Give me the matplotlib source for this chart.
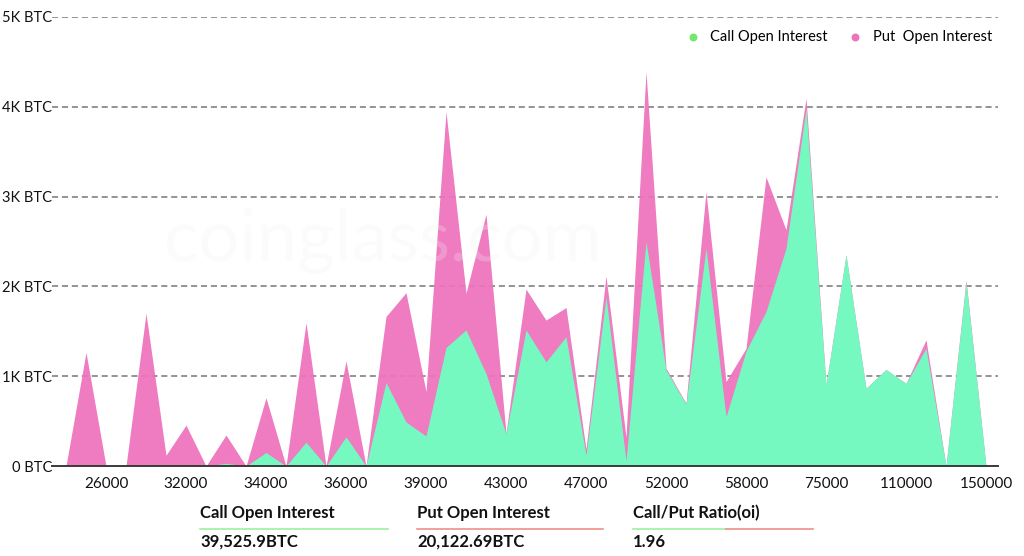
import matplotlib.pyplot as plt
import numpy as np

# strike prices (category axis), only every 4th one is labelled
strikes = [20000, 25000, 26000, 27000, 28000, 29000, 32000, 32500, 33000, 33500,
           34000, 34500, 35000, 35500, 36000, 36500, 37000, 38000, 39000, 40000,
           41000, 42000, 43000, 44000, 45000, 46000, 47000, 48000, 49000, 50000,
           52000, 54000, 55000, 56000, 58000, 60000, 65000, 70000, 75000, 80000,
           90000, 100000, 110000, 120000, 130000, 140000, 150000]

# open interest per strike, in BTC
call_oi = [0, 0, 0, 0, 15, 0, 0, 0, 30, 0,
           150, 0, 265, 0, 325, 0, 930, 490, 335, 1320,
           1515, 1030, 360, 1515, 1160, 1440, 120, 1885, 60, 2500,
           1070, 690, 2425, 550, 1280, 1720, 2425, 3980, 900, 2350,
           865, 1075, 920, 1310, 0, 2050, 0]
put_oi = [0, 1265, 0, 0, 1685, 120, 455, 0, 315, 0,
          610, 0, 1330, 0, 845, 0, 735, 1440, 495, 2625,
          410, 1775, 5, 455, 465, 325, 65, 230, 260, 1890,
          20, 10, 630, 390, 30, 1500, 205, 115, 0, 0,
          0, 0, 0, 95, 0, 20, 0]

total_call = "39,525.9BTC"
total_put = "20,122.69BTC"
ratio = "1.96"

plt.rcParams['font.family'] = ['Lato', 'DejaVu Sans']

green = '#76f9c0'
pink = '#ee73bd'

fig = plt.figure(figsize=(10.24, 5.56), dpi=100)
ax = fig.add_axes([52 / 1024, 90 / 556, 946 / 1024, 449 / 556])

x = np.arange(len(strikes))
call = np.array(call_oi)
put_top = call + np.array(put_oi)

# put is stacked on top of call
ax.fill_between(x, 0, put_top, color=pink, alpha=0.94, linewidth=0, zorder=2)
ax.fill_between(x, 0, call, color=green, linewidth=0, zorder=3)

ax.set_xlim(-0.7, 46.6)
ax.set_ylim(0, 5000)

yticks = [0, 1000, 2000, 3000, 4000, 5000]
ax.set_yticks(yticks)
ax.set_yticklabels(['0 BTC', '1K BTC', '2K BTC', '3K BTC', '4K BTC', '5K BTC'])
for yv in yticks[1:]:
    ax.axhline(yv, color='#777777', linestyle=(0, (4, 2.5)), linewidth=1.1, zorder=1)

ax.set_xticks(x[2::4])
ax.set_xticklabels([str(s) for s in strikes[2::4]])
ax.tick_params(axis='x', length=0, labelsize=11, colors='#111111', pad=8)
ax.tick_params(axis='y', length=0, labelsize=10.5, colors='#111111', pad=0)

for side in ['top', 'right', 'left']:
    ax.spines[side].set_visible(False)
ax.spines['bottom'].set_color('#3a3a3a')
ax.spines['bottom'].set_linewidth(1.4)
ax.spines['bottom'].set_zorder(5)

# watermark
ax.text(0.35, 0.5, 'coinglass.com', transform=ax.transAxes, fontsize=52,
        color='#f2f2f2', alpha=0.25, ha='center', va='center', zorder=3.5)

# legend
ax.scatter([], [], color='#6ee86e', s=22, label='Call Open Interest')
ax.scatter([], [], color='#ee73bd', s=22, label='Put  Open Interest')
ax.legend(loc='upper right', bbox_to_anchor=(1.0, 0.985), ncol=2, frameon=False,
          fontsize=10.5, handletextpad=0.2, columnspacing=0.9, borderaxespad=0)

# summary under the chart
stats = [
    (200 / 1024, 'Call Open Interest', total_call, [(200, 388, '#9ef09e')]),
    (417 / 1024, 'Put Open Interest', total_put, [(417, 603, '#f0908a')]),
    (633 / 1024, 'Call/Put Ratio(oi)', ratio, [(633, 726, '#9ef09e'), (726, 813, '#f0908a')]),
]
for xs, title, value, lines in stats:
    fig.text(xs, 1 - 513 / 556, title, fontsize=12, fontweight='bold',
             color='#111111', va='center', ha='left')
    fig.text(xs, 1 - 542 / 556, value, fontsize=12, fontweight='bold',
             color='#111111', va='center', ha='left')
    for x0, x1, c in lines:
        fig.add_artist(plt.Line2D([x0 / 1024, x1 / 1024], [1 - 529 / 556, 1 - 529 / 556],
                                  color=c, linewidth=1.2, transform=fig.transFigure))

fig.savefig('out.png', dpi=100)
